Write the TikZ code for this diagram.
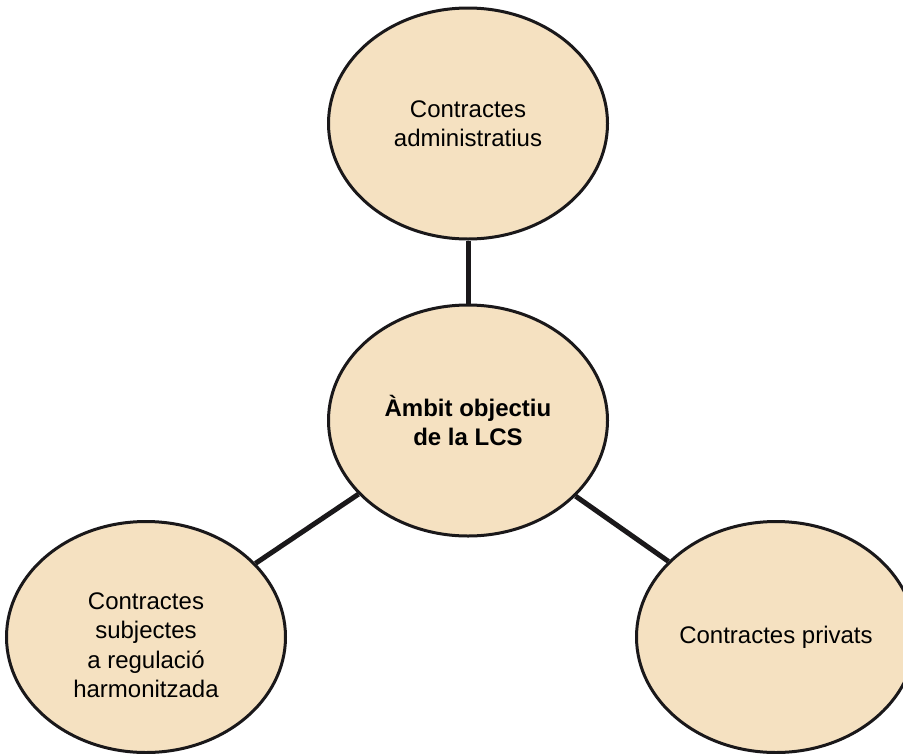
\documentclass[tikz,border=0pt]{standalone}
\usepackage{fontspec}
\setmainfont{Liberation Sans}
\usetikzlibrary{shapes.geometric}
\definecolor{ovalfill}{RGB}{245,225,193}
\definecolor{edgeblack}{RGB}{26,24,26}
\tikzset{
  oval/.style={ellipse, draw=edgeblack, line width=3pt, fill=ovalfill, inner sep=0pt,
    minimum width=279pt, minimum height=231pt, align=center,
    font=\fontsize{24}{29}\selectfont},
  ovaltext/.style={align=center, font=\fontsize{24}{29.5}\selectfont, inner sep=0pt},
  link/.style={draw=edgeblack, line width=5pt}
}
\begin{document}
\begin{tikzpicture}[x=1pt,y=1pt]
\useasboundingbox (0,0) rectangle (903,-753);
\node[oval] (top) at (468,-123.5) {Contractes\\administratius};
\node[oval] (mid) at (468,-420.5) {\bfseries Àmbit objectiu\\\bfseries de la LCS};
\node[oval] (left) at (146,-637) {};
\node[ovaltext] (lefttext) at ([yshift=-8pt]left.center) {Contractes\\subjectes\\a regulació\\harmonitzada};
\node[oval] (right) at (776,-637) {Contractes privats};
\draw[link] (mid) -- (top);
\draw[link] (mid) -- (left);
\draw[link] (mid) -- (right);
\end{tikzpicture}
\end{document}
